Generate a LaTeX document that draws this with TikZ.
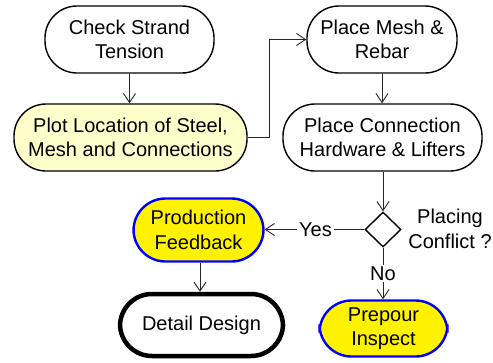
\documentclass[tikz,border=0pt]{standalone}
\usepackage{fontspec}
\setmainfont{Liberation Sans}
\usetikzlibrary{arrows.meta,shapes.geometric}
\begin{document}
\begin{tikzpicture}[x=1pt,y=1pt,
  every node/.style={font=\fontsize{20}{24.5}\selectfont, align=center},
  stadium/.style={draw=black, line width=1.4pt, rounded corners=32pt, inner sep=0pt},
  hilite/.style={stadium, fill=yellow, draw=blue, line width=2.4pt},
  arr/.style={draw=black!85, line width=0.9pt, -{Straight Barb[length=9pt,width=12pt,line width=0.9pt]}},
  plain/.style={draw=black!85, line width=0.9pt}]
\useasboundingbox (0,0) rectangle (493,-362);
\node[stadium, minimum width=169pt, minimum height=67pt] (cst) at (129.5,-39.5) {Check Strand\\Tension};
\node[stadium, fill={rgb,255:red,255;green,255;blue,204}, minimum width=233pt, minimum height=67pt] (plot) at (130.5,-137.5) {Plot Location of Steel,\\Mesh and Connections};
\node[stadium, minimum width=150pt, minimum height=67pt] (mesh) at (382,-39.5) {Place Mesh \&\\Rebar};
\node[stadium, minimum width=199pt, minimum height=67pt] (conn) at (382.5,-137.5) {Place Connection\\Hardware \& Lifters};
\node[diamond, draw=black, line width=1.4pt, minimum width=36pt, minimum height=35pt, inner sep=0pt] (dia) at (383,-229.5) {};
\node (pc) at (450,-229) {Placing\\Conflict ?};
\node[hilite, minimum width=130pt, minimum height=63pt] (pf) at (198.5,-230) {Production\\Feedback};
\node[stadium, line width=4.5pt, minimum width=163pt, minimum height=62pt] (dd) at (201.5,-325) {Detail Design};
\node[hilite, minimum width=128pt, minimum height=56pt] (pi) at (383.5,-328.5) {Prepour\\Inspect};
\draw[arr] (cst.south) -- (plot.north -| cst.south);
\draw[arr] (plot.east) -- ++(22,0) |- (mesh.west);
\draw[arr] (mesh.south) -- (conn.north -| mesh.south);
\draw[arr] (conn.south -| dia.north) -- (dia.north);
\draw[arr] (dia.west) -- node[fill=white, inner sep=2pt, pos=0.49] {Yes} (pf.east |- dia.west);
\draw[arr] (dia.south) -- node[fill=white, inner sep=2pt] {No} (pi.north -| dia.south);
\draw[arr] (pf.south -| 200,0) -- (dd.north -| 200,0);
\end{tikzpicture}
\end{document}
